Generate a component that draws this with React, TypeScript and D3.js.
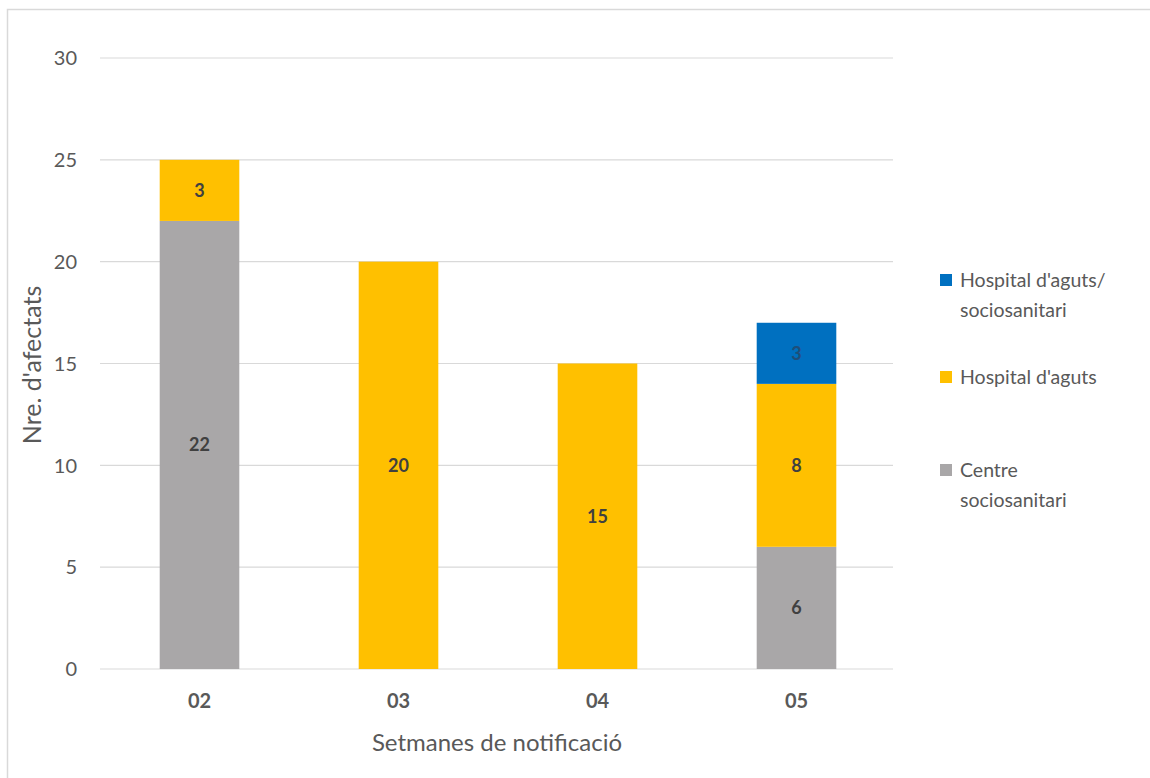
import React from "react";
import * as d3 from "d3";

const weeks = ["02", "03", "04", "05"];
const seriesNames = ["Centre sociosanitari", "Hospital d'aguts", "Hospital d'aguts/ sociosanitari"];
const centreSoc = [22, 0, 0, 6];
const hospAguts = [3, 20, 15, 8];
const hospSoc = [0, 0, 0, 3];
const yTicks = [0, 5, 10, 15, 20, 25, 30];
const colors = ["#A9A7A8", "#FFC000", "#0070C0"];
const legendLines = [
  ["Hospital d'aguts/", "sociosanitari"],
  ["Hospital d'aguts"],
  ["Centre", "sociosanitari"],
];
const legendColorIdx = [2, 1, 0];

const W = 1150;
const H = 778;
const FONT = "Lato, 'Open Sans', 'Liberation Sans', sans-serif";

export default function App() {
  const x = d3.scaleBand<string>().domain(weeks).range([100, 896]).paddingInner(0.6).paddingOuter(0.3);
  const y = d3.scaleLinear().domain([0, 30]).range([669, 58]);

  const rows = weeks.map((w, i) => ({ week: w, a: centreSoc[i], b: hospAguts[i], c: hospSoc[i] }));
  const stack = d3.stack<any>().keys(["a", "b", "c"]);
  const layers = stack(rows);

  return (
    <svg width={W} height={H} style={{ position: "absolute", left: 0, top: 0, background: "#fff" }}>
      <rect x={7.5} y={9.5} width={W + 20} height={H + 20} fill="#fff" stroke="#D9D9D9" strokeWidth={1.5} />
      {yTicks.map((t) => (
        <g key={t}>
          <line x1={100} x2={893} y1={y(t)} y2={y(t)} stroke="#D9D9D9" strokeWidth={1.2} />
          <text x={77} y={y(t)} dy="0.36em" textAnchor="end" fontSize={20} fill="#595959" fontFamily={FONT}>
            {t}
          </text>
        </g>
      ))}
      {layers.map((layer, li) => (
        <g key={li}>
          {layer.map((d, i) => {
            const v = d[1] - d[0];
            if (v <= 0) return null;
            const bx = x(weeks[i])!;
            return (
              <g key={i}>
                <rect x={bx} y={y(d[1])} width={x.bandwidth()} height={y(d[0]) - y(d[1])} fill={colors[li]} />
                <text
                  x={bx + x.bandwidth() / 2}
                  y={(y(d[0]) + y(d[1])) / 2}
                  dy="0.36em"
                  textAnchor="middle"
                  fontSize={18}
                  fontWeight="bold"
                  fill={li === 2 ? "#1F4E79" : "#404040"}
                  fontFamily={FONT}
                >
                  {v}
                </text>
              </g>
            );
          })}
        </g>
      ))}
      {weeks.map((w) => (
        <text
          key={w}
          x={x(w)! + x.bandwidth() / 2}
          y={701}
          dy="0.36em"
          textAnchor="middle"
          fontSize={20}
          fontWeight="bold"
          fill="#595959"
          fontFamily={FONT}
        >
          {w}
        </text>
      ))}
      <text x={497} y={742} dy="0.36em" textAnchor="middle" fontSize={24} fill="#595959" fontFamily={FONT}>
        Setmanes de notificació
      </text>
      <text
        transform={`translate(32,${365}) rotate(-90)`}
        dy="0.36em"
        textAnchor="middle"
        fontSize={25}
        fill="#595959"
        fontFamily={FONT}
      >
        Nre. d'afectats
      </text>
      {legendLines.map((lines, k) => {
        const top = [280, 377, 470][k];
        return (
          <g key={k}>
            <rect x={940} y={top - 6} width={12} height={12} fill={colors[legendColorIdx[k]]} />
            {lines.map((ln, j) => (
              <text key={j} x={960} y={top + j * 30} dy="0.36em" fontSize={19.5} fill="#595959" fontFamily={FONT}>
                {ln}
              </text>
            ))}
          </g>
        );
      })}
    </svg>
  );
}
